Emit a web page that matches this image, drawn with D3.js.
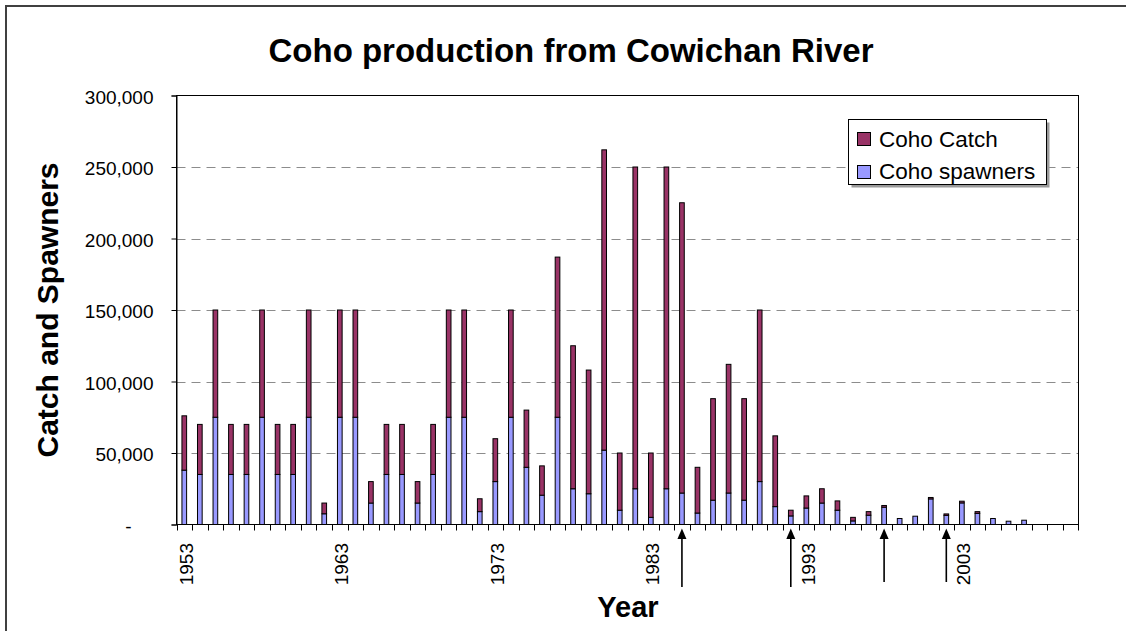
<!DOCTYPE html>
<html>
<head>
<meta charset="utf-8">
<script src="https://cdn.jsdelivr.net/npm/d3@7"></script>
<style>
  body { margin: 0; background: #fff; }
  svg { display: block; }
  text { font-family: "Liberation Sans", Arial, sans-serif; fill: #000; }
</style>
</head>
<body>
<svg width="1126" height="631"></svg>
<script>
// categories: one per season, last three seasons have no data
const years = [
  1953, 1954, 1955, 1956, 1957, 1958, 1959, 1960, 1961, 1962,
  1963, 1964, 1965, 1966, 1967, 1968, 1969, 1970, 1971, 1972,
  1973, 1974, 1975, 1976, 1977, 1978, 1979, 1980, 1981, 1982,
  1983, 1984, 1985, 1986, 1987, 1988, 1989, 1990, 1991, 1992,
  1993, 1994, 1995, 1996, 1997, 1998, 1999, 2000, 2001, 2002,
  2003, 2004, 2005, 2006, 2007, 2008, 2009, 2010
];
const spawners = [
  38000, 35000, 75000, 35000, 35000, 75000, 35000, 35000, 75000, 7500,
  75000, 75000, 15000, 35000, 35000, 15000, 35000, 75000, 75000, 9000,
  30000, 75000, 40000, 20500, 75000, 25000, 21500, 52000, 10000, 25000,
  5000, 25000, 22000, 8000, 17000, 22000, 17000, 30000, 12500, 6000,
  11500, 15000, 10000, 2500, 6500, 12100, 4200, 5800, 17900, 6400,
  15100, 7800, 4200, 2300, 3000, null, null, null
];
const cohoCatch = [
  38000, 35000, 75000, 35000, 35000, 75000, 35000, 35000, 75000, 7500,
  75000, 75000, 15000, 35000, 35000, 15000, 35000, 75000, 75000, 9000,
  30000, 75000, 40000, 20500, 112000, 100000, 86500, 210000, 40000, 225000,
  45000, 225000, 203000, 32000, 71000, 90000, 71000, 120000, 49500, 4000,
  8500, 10000, 6500, 2500, 2500, 1200, 0, 0, 1000, 1000,
  1200, 1200, 0, 0, 0, null, null, null
];
const yTicks = [0, 50000, 100000, 150000, 200000, 250000, 300000];
const labelYears = [1953, 1963, 1973, 1983, 1993, 2003];
const arrowYears = [1985, 1992, 1998, 2002];
const seriesNames = ["Coho Catch", "Coho spawners"];
const seriesColors = ["#993366", "#9999ff"];

const svg = d3.select("svg");
const plot = { left: 176.5, right: 1078.5, top: 95.5, bottom: 524.5 };

const x = d3.scaleBand().domain(years).range([plot.left, plot.right]).padding(0);
const y = d3.scaleLinear().domain([0, 300000]).range([plot.bottom, plot.top]);
const bw = x.bandwidth();

// outer chart frame
svg.append("rect")
  .attr("x", 6).attr("y", 6)
  .attr("width", 1140).attr("height", 650)
  .attr("fill", "#fff")
  .attr("stroke", "#404040")
  .attr("stroke-width", 2);

// title
svg.append("text")
  .attr("x", 571).attr("y", 62)
  .attr("text-anchor", "middle")
  .style("font-size", "33px")
  .style("font-weight", "bold")
  .text("Coho production from Cowichan River");

// gridlines
svg.append("g")
  .selectAll("line")
  .data(yTicks.filter(d => d > 0 && d < 300000))
  .join("line")
  .attr("x1", plot.left).attr("x2", plot.right)
  .attr("y1", d => Math.round(y(d)) + 0.5)
  .attr("y2", d => Math.round(y(d)) + 0.5)
  .attr("stroke", "#8c8c8c")
  .attr("stroke-dasharray", "9,6");

// plot border
svg.append("rect")
  .attr("x", plot.left).attr("y", plot.top)
  .attr("width", plot.right - plot.left)
  .attr("height", plot.bottom - plot.top)
  .attr("fill", "none")
  .attr("stroke", "#000");

// stacked bars
const rows = years.map((yr, i) => ({ year: yr, s: spawners[i], c: cohoCatch[i] }))
  .filter(d => d.s !== null);
const barW = bw * 0.3;
const bars = svg.append("g");
rows.forEach(d => {
  const bx = x(d.year) + (bw - barW) / 2;
  bars.append("rect")
    .attr("x", bx).attr("width", barW)
    .attr("y", y(d.s)).attr("height", y(0) - y(d.s))
    .attr("fill", seriesColors[1])
    .attr("stroke", "#000").attr("stroke-width", 1);
  if (d.c > 0) {
    bars.append("rect")
      .attr("x", bx).attr("width", barW)
      .attr("y", y(d.s + d.c)).attr("height", y(d.s) - y(d.s + d.c))
      .attr("fill", seriesColors[0])
      .attr("stroke", "#000").attr("stroke-width", 1);
  }
});

// y axis
const yAxis = svg.append("g")
  .attr("transform", `translate(${plot.left},0)`)
  .call(d3.axisLeft(y)
    .tickValues(yTicks)
    .tickSize(5)
    .tickPadding(18)
    .tickFormat(d => d === 0 ? "-" : d3.format(",")(d)));
yAxis.select(".domain").attr("stroke", "#000");
yAxis.selectAll(".tick line").attr("stroke", "#000");
yAxis.selectAll(".tick text")
  .style("font-size", "19px")
  .style("font-family", "'Liberation Sans', Arial, sans-serif")
  .attr("fill", "#000")
  .attr("dy", "0.42em")
  .attr("x", d => d === 0 ? -45 : -23);

// x axis line and category ticks
svg.append("line")
  .attr("x1", plot.left).attr("x2", plot.right)
  .attr("y1", plot.bottom).attr("y2", plot.bottom)
  .attr("stroke", "#000");
svg.append("g")
  .selectAll("line")
  .data(years.concat([null]))
  .join("line")
  .attr("x1", d => d === null ? plot.right : Math.round(x(d)) + 0.5)
  .attr("x2", d => d === null ? plot.right : Math.round(x(d)) + 0.5)
  .attr("y1", plot.bottom).attr("y2", plot.bottom + 6)
  .attr("stroke", "#000");

// x tick labels, rotated
svg.append("g")
  .selectAll("text")
  .data(labelYears)
  .join("text")
  .attr("transform", d => `translate(${x(d) + bw / 2 + 1.5},543) rotate(-90)`)
  .attr("text-anchor", "end")
  .attr("dy", "0.36em")
  .style("font-size", "19px")
  .text(d => d);

// axis titles
svg.append("text")
  .attr("transform", "translate(58,310) rotate(-90)")
  .attr("text-anchor", "middle")
  .style("font-size", "30px")
  .style("font-weight", "bold")
  .text("Catch and Spawners");

svg.append("text")
  .attr("x", 628).attr("y", 617)
  .attr("text-anchor", "middle")
  .style("font-size", "29px")
  .style("font-weight", "bold")
  .text("Year");

// arrows marking years below the axis
const arrows = svg.append("g");
arrowYears.forEach((yr, i) => {
  const ax = x(yr) + bw / 2;
  const tail = i < 2 ? 587 : 582;
  arrows.append("line")
    .attr("x1", ax).attr("x2", ax)
    .attr("y1", tail).attr("y2", 536)
    .attr("stroke", "#000").attr("stroke-width", 1.6);
  arrows.append("path")
    .attr("d", `M${ax},528.5 L${ax - 4.5},539 L${ax + 4.5},539 Z`)
    .attr("fill", "#000");
});

// legend
const legend = svg.append("g");
legend.append("rect")
  .attr("x", 851.5).attr("y", 122.5)
  .attr("width", 198).attr("height", 65)
  .attr("fill", "#9a9a9a");
legend.append("rect")
  .attr("x", 848.5).attr("y", 119.5)
  .attr("width", 198).attr("height", 65)
  .attr("fill", "#fff")
  .attr("stroke", "#000");
seriesNames.forEach((name, i) => {
  legend.append("rect")
    .attr("x", 857.5).attr("y", 132.5 + i * 33)
    .attr("width", 13).attr("height", 13)
    .attr("fill", seriesColors[i])
    .attr("stroke", "#000");
  legend.append("text")
    .attr("x", 879).attr("y", 146.5 + i * 32.5)
    .style("font-size", "22.5px")
    .text(name);
});
</script>
</body>
</html>
